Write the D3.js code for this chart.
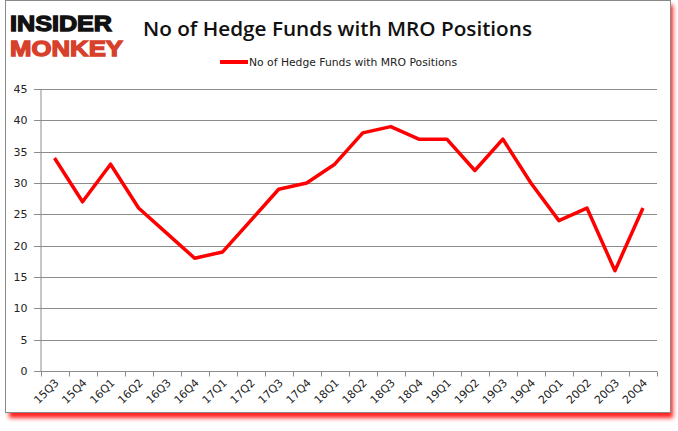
<!DOCTYPE html>
<html><head><meta charset="utf-8">
<script src="https://cdn.jsdelivr.net/npm/d3@7"></script>
<style>body{margin:0;background:#fff}svg{display:block}</style>
</head><body>
<script>
const categories = ["15Q3","15Q4","16Q1","16Q2","16Q3","16Q4","17Q1","17Q2","17Q3","17Q4","18Q1","18Q2","18Q3","18Q4","19Q1","19Q2","19Q3","19Q4","20Q1","20Q2","20Q3","20Q4"];
const values = [34,27,33,26,22,18,19,24,29,30,33,38,39,37,37,32,37,30,24,26,16,26];
const yTicks = [0,5,10,15,20,25,30,35,40,45];
const seriesName = "No of Hedge Funds with MRO Positions";
const titleText = "No of Hedge Funds with MRO Positions";

const W = 678, H = 431;
const svg = d3.select("body").append("svg").attr("width", W).attr("height", H);
const defs = svg.append("defs");
const f = defs.append("filter").attr("id","sh").attr("x","-5%").attr("y","-5%").attr("width","110%").attr("height","115%");
f.append("feGaussianBlur").attr("stdDeviation", 2);

// frame shadow + frame
svg.append("rect").attr("x", 9).attr("y", 5).attr("width", 664).attr("height", 413)
  .attr("fill", "#ff2020").attr("filter", "url(#sh)");
svg.append("rect").attr("x", 5.5).attr("y", 0.5).attr("width", 665).attr("height", 412)
  .attr("fill", "#fff").attr("stroke", "#8a8a8a").attr("stroke-width", 1);

// logo (narrow tall letters)
svg.append("text").attr("transform", "translate(10,31) scale(1,1.3)").text("INSIDER")
  .attr("font-family", "'Liberation Sans', Arial, sans-serif").attr("font-weight", 700).attr("font-size", 17)
  .attr("textLength", 102).attr("lengthAdjust", "spacingAndGlyphs").attr("fill", "#111")
  .attr("stroke", "#111").attr("stroke-width", 1);
svg.append("text").attr("transform", "translate(10,56) scale(1,1.3)").text("MONKEY")
  .attr("font-family", "'Liberation Sans', Arial, sans-serif").attr("font-weight", 700).attr("font-size", 17)
  .attr("textLength", 113).attr("lengthAdjust", "spacingAndGlyphs").attr("fill", "#d7402a")
  .attr("stroke", "#d7402a").attr("stroke-width", 1);

// title
svg.append("text").attr("x", 143).attr("y", 36).text(titleText)
  .attr("font-family", "'Open Sans', Lato, sans-serif").attr("font-weight", 600).attr("font-size", 20)
  .attr("textLength", 389).attr("lengthAdjust", "spacingAndGlyphs").attr("fill", "#111");

// legend
svg.append("line").attr("x1", 220).attr("x2", 248).attr("y1", 62).attr("y2", 62)
  .attr("stroke", "#ff0000").attr("stroke-width", 4);
svg.append("text").attr("x", 249).attr("y", 66).text(seriesName)
  .attr("font-family", "'DejaVu Sans', sans-serif").attr("font-size", 11)
  .attr("textLength", 208).attr("lengthAdjust", "spacingAndGlyphs").attr("fill", "#222");

const x = d3.scaleBand().domain(categories).range([40.5, 657]);
const y = d3.scaleLinear().domain([0, 45]).range([371, 89]);

// gridlines
svg.append("g").selectAll("line").data(yTicks).join("line")
  .attr("x1", 34).attr("x2", 657).attr("y1", d => Math.round(y(d)) + 0.5).attr("y2", d => Math.round(y(d)) + 0.5)
  .attr("stroke", "#8c8c8c").attr("stroke-width", 1);

// y axis
const ya = svg.append("g").attr("transform", "translate(40.5,0)")
  .call(d3.axisLeft(y).tickValues(yTicks).tickSize(0).tickPadding(13));
ya.select(".domain").attr("stroke", "#8c8c8c");
ya.selectAll("text").attr("font-family", "'DejaVu Sans', sans-serif").attr("font-size", 11).attr("fill", "#222");

// x axis
const xa = svg.append("g").attr("transform", "translate(0,371.5)");
xa.append("line").attr("x1", 40.5).attr("x2", 657).attr("stroke", "#8c8c8c");
const bounds = categories.map(c => x(c)).concat([x.range()[1]]);
xa.selectAll("line.t").data(bounds).join("line").attr("class","t")
  .attr("x1", d => Math.round(d) + 0.5).attr("x2", d => Math.round(d) + 0.5).attr("y1", 0).attr("y2", 5)
  .attr("stroke", "#8c8c8c");
xa.selectAll("text").data(categories).join("text")
  .attr("transform", d => `translate(${x(d) + x.bandwidth()/2 + 5},${12}) rotate(-45)`)
  .attr("text-anchor", "end").attr("font-family", "'DejaVu Sans', sans-serif").attr("font-size", 11)
  .attr("fill", "#222").text(d => d);

// line
const line = d3.line().x((d, i) => x(categories[i]) + x.bandwidth()/2).y(d => y(d));
svg.append("path").datum(values).attr("d", line).attr("fill", "none")
  .attr("stroke", "#ff0000").attr("stroke-width", 3.5).attr("stroke-linejoin", "round");
</script>
</body></html>
